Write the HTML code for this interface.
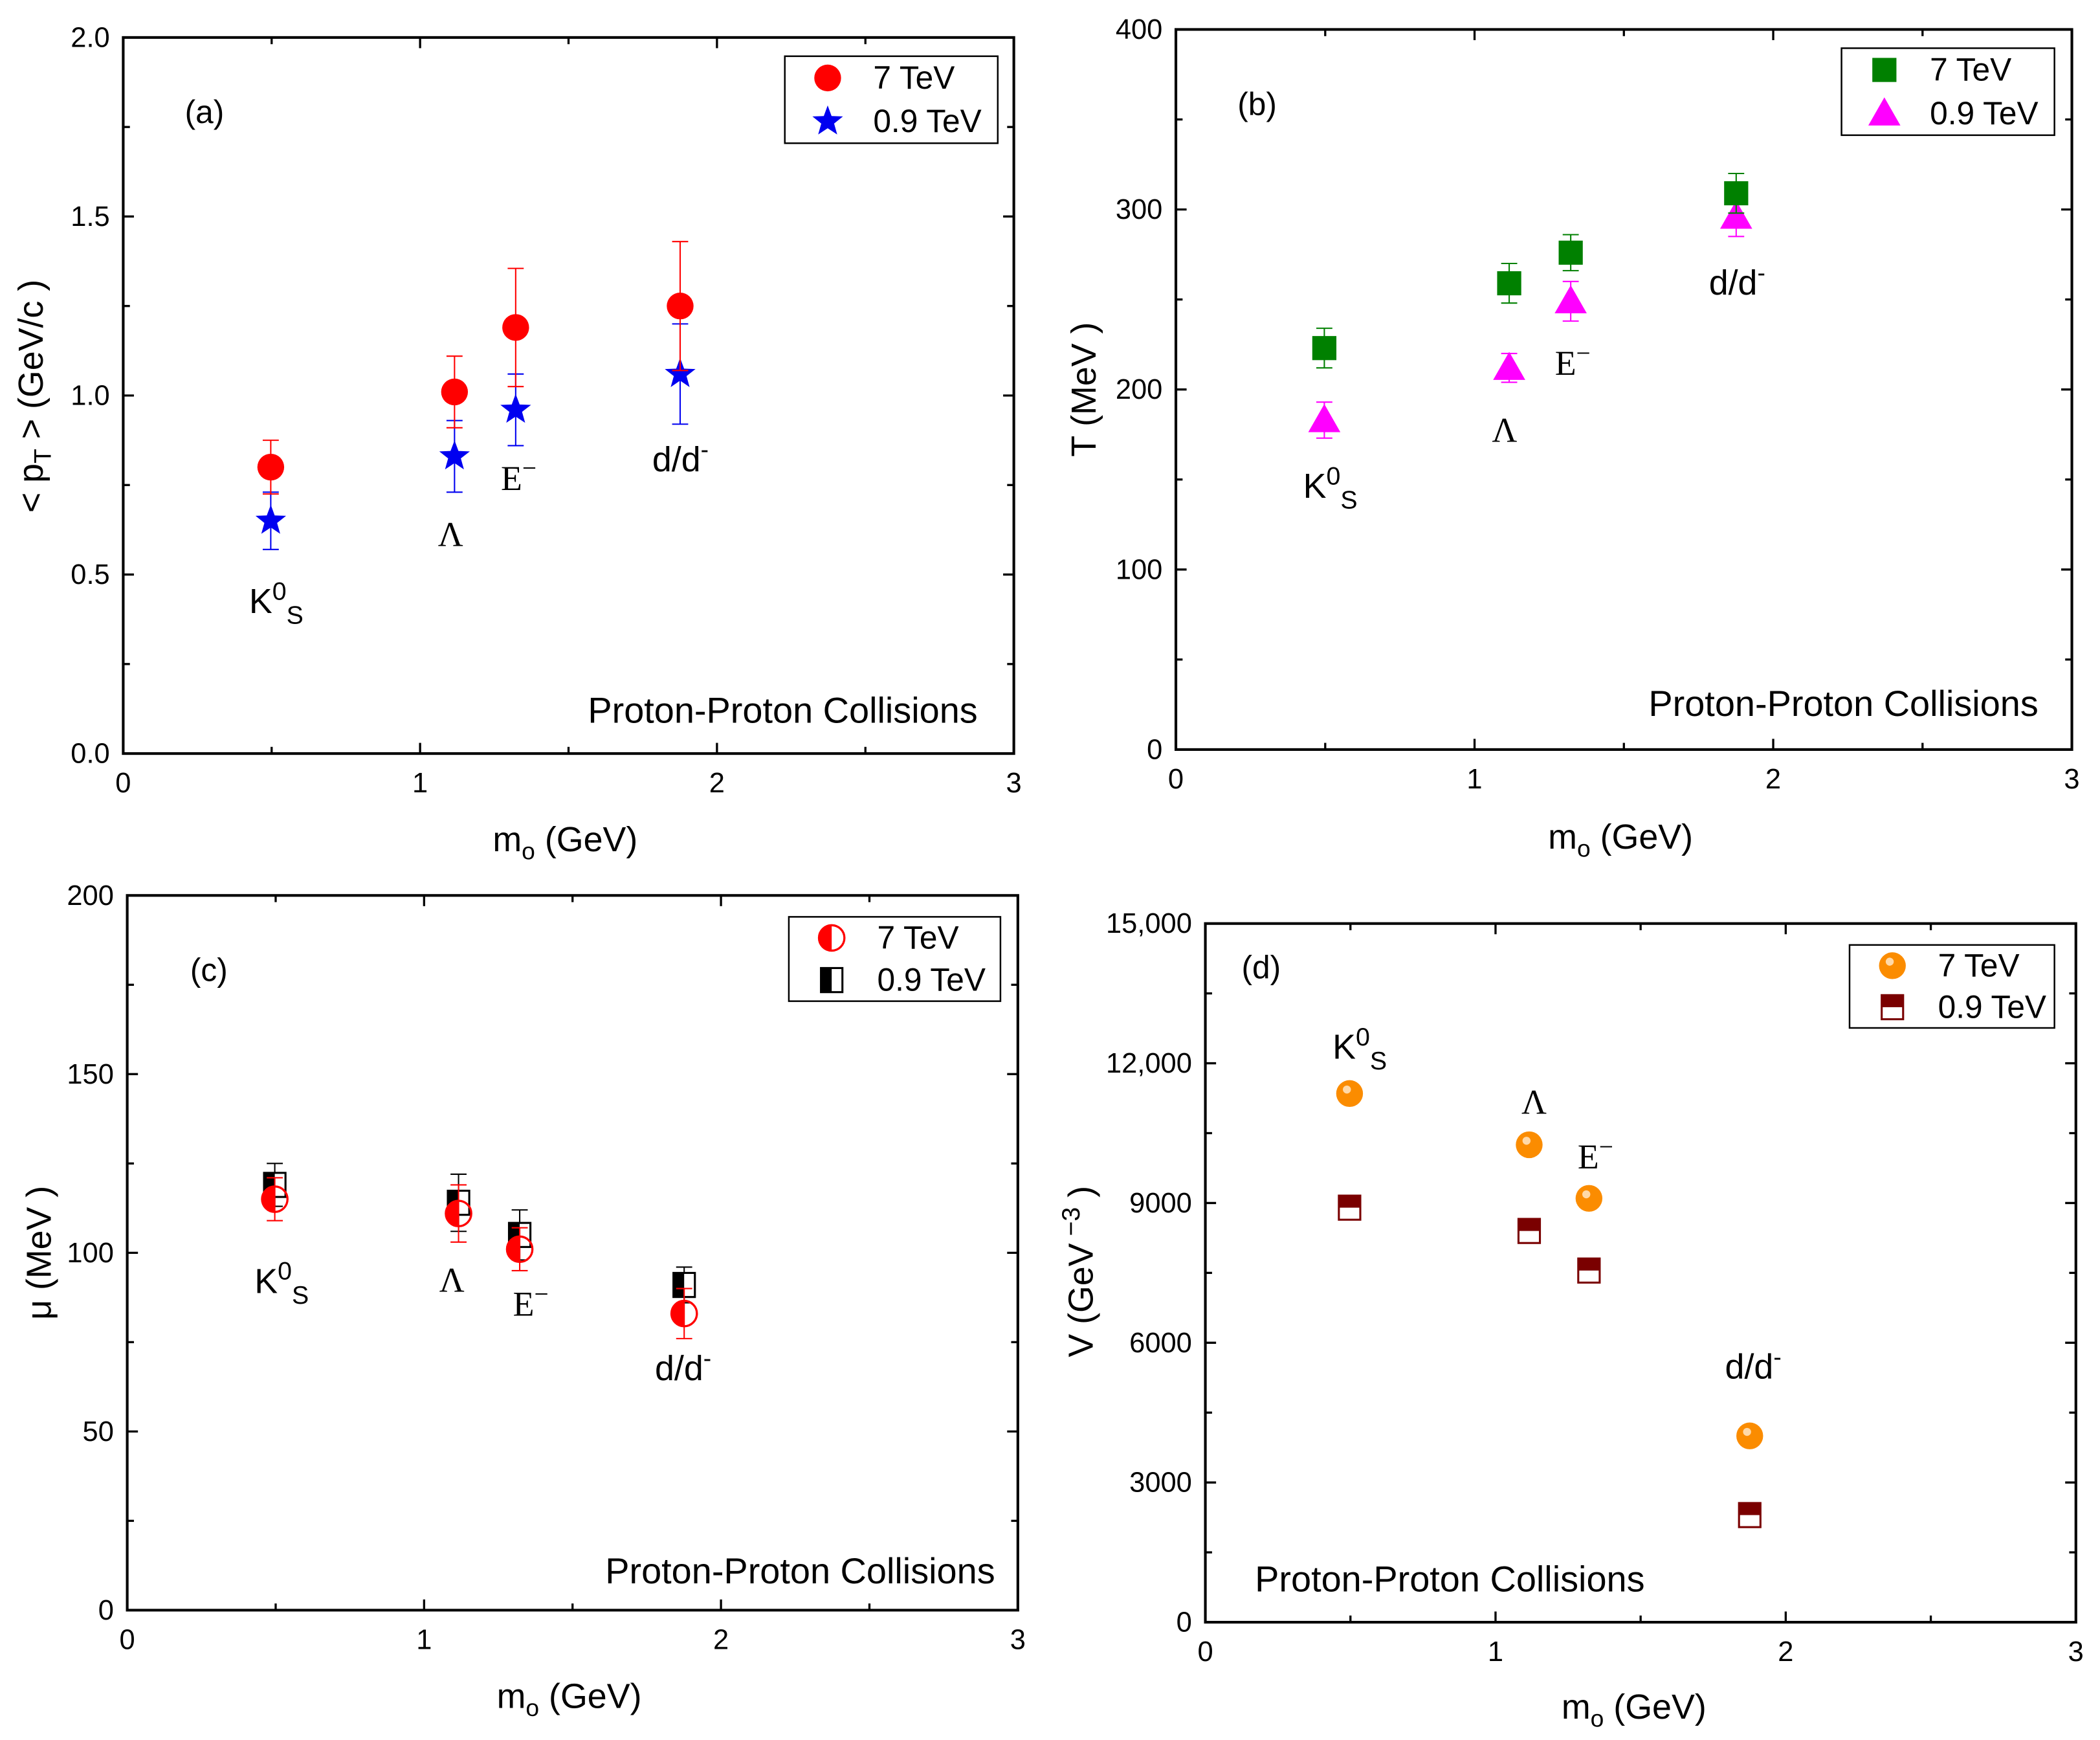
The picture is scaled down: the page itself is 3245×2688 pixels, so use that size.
<!DOCTYPE html>
<html><head><meta charset="utf-8">
<style>
html,body{margin:0;padding:0;background:#fff;}
svg{display:block;}
text{font-family:"Liberation Sans",Arial,sans-serif;fill:#000;}
.serif{font-family:"Liberation Serif","DejaVu Serif",serif;}
</style></head>
<body>
<svg id="fig" xmlns="http://www.w3.org/2000/svg" width="3245" height="2688" viewBox="0 0 1568 1300" preserveAspectRatio="none"></svg>
<script>
// ---- data ----
const masses = [0.497, 1.116, 1.322, 1.876];
const xTicks = ["0","1","2","3"];
// panel a
const aHigh = [0.80, 1.01, 1.19, 1.25];
const aHighErr = [0.075, 0.10, 0.165, 0.18];
const aLow = [0.65, 0.83, 0.96, 1.06];
const aLowErr = [0.08, 0.10, 0.10, 0.14];
const aYTicks = ["0.0","0.5","1.0","1.5","2.0"];
// panel b
const bHigh = [223, 259, 276, 309];
const bHighErr = [11, 11, 10, 11];
const bLow = [183, 212, 249, 296];
const bLowErr = [10, 8, 11, 11];
const bYTicks = ["0","100","200","300","400"];
// panel c
const cHigh = [115, 111, 101, 83];
const cHighErr = [6, 8, 6, 7];
const cLow = [119, 114, 105, 91];
const cLowErr = [6, 8, 7, 5];
const cYTicks = ["0","50","100","150","200"];
// panel d
const dHigh = [11350, 10250, 9100, 4000];
const dHighErr = [80, 80, 80, 150];
const dLow = [8900, 8400, 7550, 2300];
const dLowErr = [150, 150, 150, 150];
const dYTicks = ["0","3000","6000","9000","12,000","15,000"];

const NS = "http://www.w3.org/2000/svg";
const svg = document.getElementById('fig');
function el(tag, attrs, parent, txt){
  const e = document.createElementNS(NS, tag);
  for (const k in attrs) e.setAttribute(k, attrs[k]);
  if (txt !== undefined) e.textContent = txt;
  (parent || svg).appendChild(e);
  return e;
}

function panel(cfg){
  const g = el('g', {});
  
  
  const L=cfg.box[0], T=cfg.box[1], R=cfg.box[2], B=cfg.box[3];
  const xs = v => L + (v - 0) / 3 * (R - L);
  const ys = v => B - (v / cfg.ymax) * (B - T);
  const tg = el('g', {stroke:'#000','stroke-width':1.6}, g);
  for (let i=0;i<=6;i++){
    const x = xs(i*0.5), len = i%2===0 ? 8 : 5;
    el('line',{x1:x,y1:B,x2:x,y2:B-len},tg);
    el('line',{x1:x,y1:T,x2:x,y2:T+len},tg);
  }
  const nY = cfg.yTicks.length - 1;
  for (let i=0;i<=nY*2;i++){
    const y = ys(i*cfg.ymax/(nY*2)), len = i%2===0 ? 8 : 5;
    el('line',{x1:L,y1:y,x2:L+len,y2:y},tg);
    el('line',{x1:R,y1:y,x2:R-len,y2:y},tg);
  }
  const frame = el('rect',{x:L,y:T,width:R-L,height:B-T,fill:'none',stroke:'#000','stroke-width':2},g);
  
  
  xTicks.forEach((t,i)=>{
    const tx = el('text',{x:xs(i),y:B+29,'font-size':21,'text-anchor':'middle'},g,t);
    
    
  });
  cfg.yTicks.forEach((t,i)=>{
    const tx = el('text',{x:L-10,y:ys(i*cfg.ymax/nY)+7,'font-size':21,'text-anchor':'end'},g,t);
    
    
  });
  const xt = el('text',{x:cfg.xt[0],y:cfg.xt[1],'font-size':26,'text-anchor':'middle'},g);
  
  
  el('tspan',{},xt,'m');
  el('tspan',{'font-size':18,dy:6},xt,'o');
  el('tspan',{dy:-6},xt,' (GeV)');
  const yt = el('text',{x:0,y:0,'font-size':26,'text-anchor':'middle',transform:`translate(${cfg.yt[0]},${cfg.yt[1]}) rotate(-90)`},g);
  
  
  cfg.ytitle(yt);
  const pl = el('text',{x:cfg.lab[0],y:cfg.lab[1],'font-size':24},g,'('+cfg.id+')');
  
  
  const pp = el('text',{x:cfg.ppc[0],y:cfg.ppc[1],'font-size':27,'text-anchor':cfg.ppc[2]},g,'Proton-Proton Collisions');
  
  
  const pls = cfg.plab;
  const k = el('text',{x:pls[0][0],y:pls[0][1],'font-size':26},g);
  
  
  el('tspan',{},k,'K');
  el('tspan',{'font-size':19,dy:-10},k,'0');
  el('tspan',{'font-size':19,dy:18},k,'S');
  const la = el('text',{x:pls[1][0],y:pls[1][1],'font-size':26,'class':'serif'},g,'Λ');
  
  
  const xi = el('text',{x:pls[2][0],y:pls[2][1],'font-size':26,'class':'serif'},g);
  
  
  el('tspan',{},xi,'E');
  el('tspan',{'font-size':19,dy:-10},xi,'−');
  const dd = el('text',{x:pls[3][0],y:pls[3][1],'font-size':26},g);
  
  
  el('tspan',{},dd,'d/d');
  el('tspan',{'font-size':18,dy:-10},dd,'-');
  [[cfg.low,cfg.lowErr,cfg.sym[1],'low'],[cfg.high,cfg.highErr,cfg.sym[0],'high']].forEach(s=>{
    const sg = el('g',{},g);
    
    
    s[0].forEach((v,i)=>{
      const x = xs(masses[i]), y = ys(v), e1 = ys(v+s[1][i]), e2 = ys(v-s[1][i]);
      const eg = el('g',{stroke:s[2].ec,'stroke-width':1},sg);
      
      
      el('line',{x1:x,y1:e1,x2:x,y2:e2},eg);
      el('line',{x1:x-6,y1:e1,x2:x+6,y2:e1},eg);
      el('line',{x1:x-6,y1:e2,x2:x+6,y2:e2},eg);
      const m = s[2].draw(sg,x,y);
      
      
    });
  });
  const lb = cfg.leg;
  const lg = el('g',{},g);
  
  
  el('rect',{x:lb[0],y:lb[1],width:lb[2]-lb[0],height:lb[3]-lb[1],fill:'#fff',stroke:'#000','stroke-width':1.2},lg);
  const rowH = (lb[3]-lb[1])/2;
  ['7 TeV','0.9 TeV'].forEach((t,i)=>{
    const cy = lb[1]+rowH*(i+0.5);
    const m = cfg.sym[i].draw(lg, lb[0]+32, cy);
    
    
    const tx = el('text',{x:lb[0]+66,y:cy+8,'font-size':24},lg,t);
    
    
  });
}

function circle(fill){return {ec:fill,draw:(p,x,y)=>el('circle',{cx:x,cy:y,r:10,fill:fill},p)};}
function star(fill){return {ec:fill,draw:(p,x,y)=>{
  let pts=[];for(let i=0;i<10;i++){const r=i%2?5:12,a=-Math.PI/2+i*Math.PI/5;pts.push((x+r*Math.cos(a)).toFixed(1)+','+(y+r*Math.sin(a)).toFixed(1));}
  return el('polygon',{points:pts.join(' '),fill:fill},p);}};}
function square(fill){return {ec:fill,draw:(p,x,y)=>el('rect',{x:x-9,y:y-9,width:18,height:18,fill:fill},p)};}
function tri(fill){return {ec:fill,draw:(p,x,y)=>el('polygon',{points:`${x},${y-12} ${x+12},${y+9} ${x-12},${y+9}`,fill:fill},p)};}
function halfCircle(){return {ec:'#f00',draw:(p,x,y)=>{const gg=el('g',{},p);
  el('path',{d:`M${x},${y-10} A10,10 0 0 0 ${x},${y+10} Z`,fill:'#f00'},gg);
  el('circle',{cx:x,cy:y,r:9.5,fill:'none',stroke:'#f00','stroke-width':1.6},gg);return gg;}};}
function halfSquare(){return {ec:'#000',draw:(p,x,y)=>{const gg=el('g',{},p);
  el('rect',{x:x-8,y:y-9,width:16,height:18,fill:'#fff',stroke:'#000','stroke-width':1.5},gg);
  el('rect',{x:x-8,y:y-9,width:8,height:18,fill:'#000'},gg);return gg;}};}
function ballOrange(){return {ec:'#d87000',draw:(p,x,y)=>{const gg=el('g',{},p);
  el('circle',{cx:x,cy:y,r:10,fill:'#fb8c00'},gg);
  el('circle',{cx:x-2,cy:y-3,r:3,fill:'#ffd9a8'},gg);return gg;}};}
function halfSqDark(){return {ec:'#8b0000',draw:(p,x,y)=>{const gg=el('g',{},p);
  el('rect',{x:x-8,y:y-9,width:16,height:18,fill:'#fff',stroke:'#7a0000','stroke-width':1.5},gg);
  el('rect',{x:x-8,y:y-9,width:16,height:9,fill:'#7a0000'},gg);return gg;}};}

panel({id:'a',box:[92,28,757,563],ymax:2,yTicks:aYTicks,high:aHigh,highErr:aHighErr,low:aLow,lowErr:aLowErr,
  sym:[circle('#f00'),star('#0000f0')],xt:[422,636],yt:[32,296],
  ytitle:t=>{el('tspan',{},t,'< p');el('tspan',{'font-size':18,dy:6},t,'T');el('tspan',{dy:-6},t,' > (GeV/c )');},
  lab:[138,92],ppc:[730,540,'end'],plab:[[186,458],[327,408],[374,366],[487,352]],leg:[586,42,745,107]});
panel({id:'b',box:[878,22,1547,560],ymax:400,yTicks:bYTicks,high:bHigh,highErr:bHighErr,low:bLow,lowErr:bLowErr,
  sym:[square('#008000'),tri('#ff00ff')],xt:[1210,634],yt:[818,291],
  ytitle:t=>{el('tspan',{},t,'T (MeV )');},
  lab:[924,86],ppc:[1522,535,'end'],plab:[[973,372],[1114,330],[1161,280],[1276,220]],leg:[1375,36,1534,101]});
panel({id:'c',box:[95,669,760,1203],ymax:200,yTicks:cYTicks,high:cHigh,highErr:cHighErr,low:cLow,lowErr:cLowErr,
  sym:[halfCircle(),halfSquare()],xt:[425,1276],yt:[38,936],
  ytitle:t=>{el('tspan',{},t,'μ (MeV )');},
  lab:[142,733],ppc:[743,1183,'end'],plab:[[190,966],[328,965],[383,983],[489,1031]],leg:[589,685,747,748]});
panel({id:'d',box:[900,690,1550,1212],ymax:15000,yTicks:dYTicks,high:dHigh,highErr:dHighErr,low:dLow,lowErr:dLowErr,
  sym:[ballOrange(),halfSqDark()],xt:[1220,1284],yt:[816,950],
  ytitle:t=>{el('tspan',{},t,'V (GeV');el('tspan',{'font-size':19,dy:-10},t,' −3');el('tspan',{dy:10},t,' )');},
  lab:[927,731],ppc:[937,1189,'start'],plab:[[995,791],[1136,832],[1178,873],[1288,1030]],leg:[1381,706,1534,768]});
</script>
</body></html>
